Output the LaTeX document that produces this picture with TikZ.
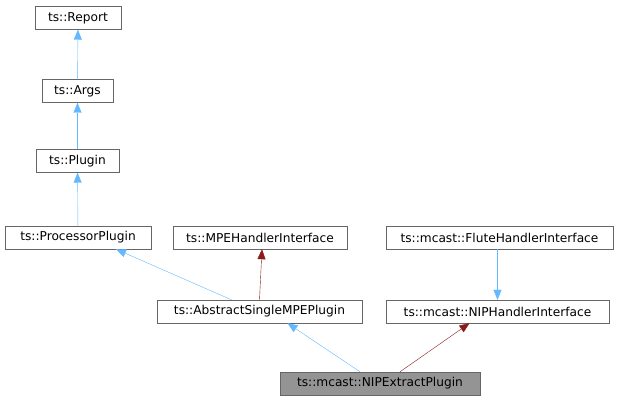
\documentclass[tikz,border=0pt]{standalone}
\usepackage{fontspec}
\setmainfont{DejaVu Sans}
\usetikzlibrary{arrows.meta}
\begin{document}
\begin{tikzpicture}[x=1pt,y=-1pt,
  box/.style={draw=black!60,fill=white,minimum height=23pt,inner xsep=4pt,font=\fontsize{12.2}{14}\selectfont,anchor=center},
  inh/.style={color={rgb,255:red,99;green,184;blue,255},-{Triangle[length=10pt,width=8pt]}},
  use/.style={color={rgb,255:red,139;green,26;blue,26},-{Triangle[length=10pt,width=8pt]}}]
\useasboundingbox (0,0) rectangle (619,403);
\node[box,minimum width=86pt] (rep) at (78,18) {ts::Report};
\node[box,minimum width=71pt] (args) at (77.5,91) {ts::Args};
\node[box,minimum width=83pt] (plug) at (77.5,161) {ts::Plugin};
\node[box,minimum width=146pt] (proc) at (78,237.5) {ts::ProcessorPlugin};
\node[box,minimum width=174pt] (mpe) at (260,237.5) {ts::MPEHandlerInterface};
\node[box,minimum width=227pt] (flute) at (499.5,237.5) {ts::mcast::FluteHandlerInterface};
\node[box,minimum width=205pt] (abs) at (259.5,311.5) {ts::AbstractSingleMPEPlugin};
\node[box,minimum width=223pt] (nip) at (497.5,311.5) {ts::mcast::NIPHandlerInterface};
\node[box,minimum width=200pt,fill=black!42] (ext) at (380,383.5) {ts::mcast::NIPExtractPlugin};
\draw[inh] (args) -- (rep);
\draw[inh] (plug) -- (args);
\draw[inh] (proc) -- (plug);
\draw[inh] ([xshift=-2pt]flute.south) -- (nip.north);
\draw[inh] ([xshift=-28pt]abs.north) -- ([xshift=38pt]proc.south);
\draw[use] (abs.north) -- ([xshift=2pt]mpe.south);
\draw[inh] ([xshift=-20pt]ext.north) -- ([xshift=28pt]abs.south);
\draw[use] ([xshift=20pt]ext.north) -- ([xshift=-28pt]nip.south);
\end{tikzpicture}
\end{document}
